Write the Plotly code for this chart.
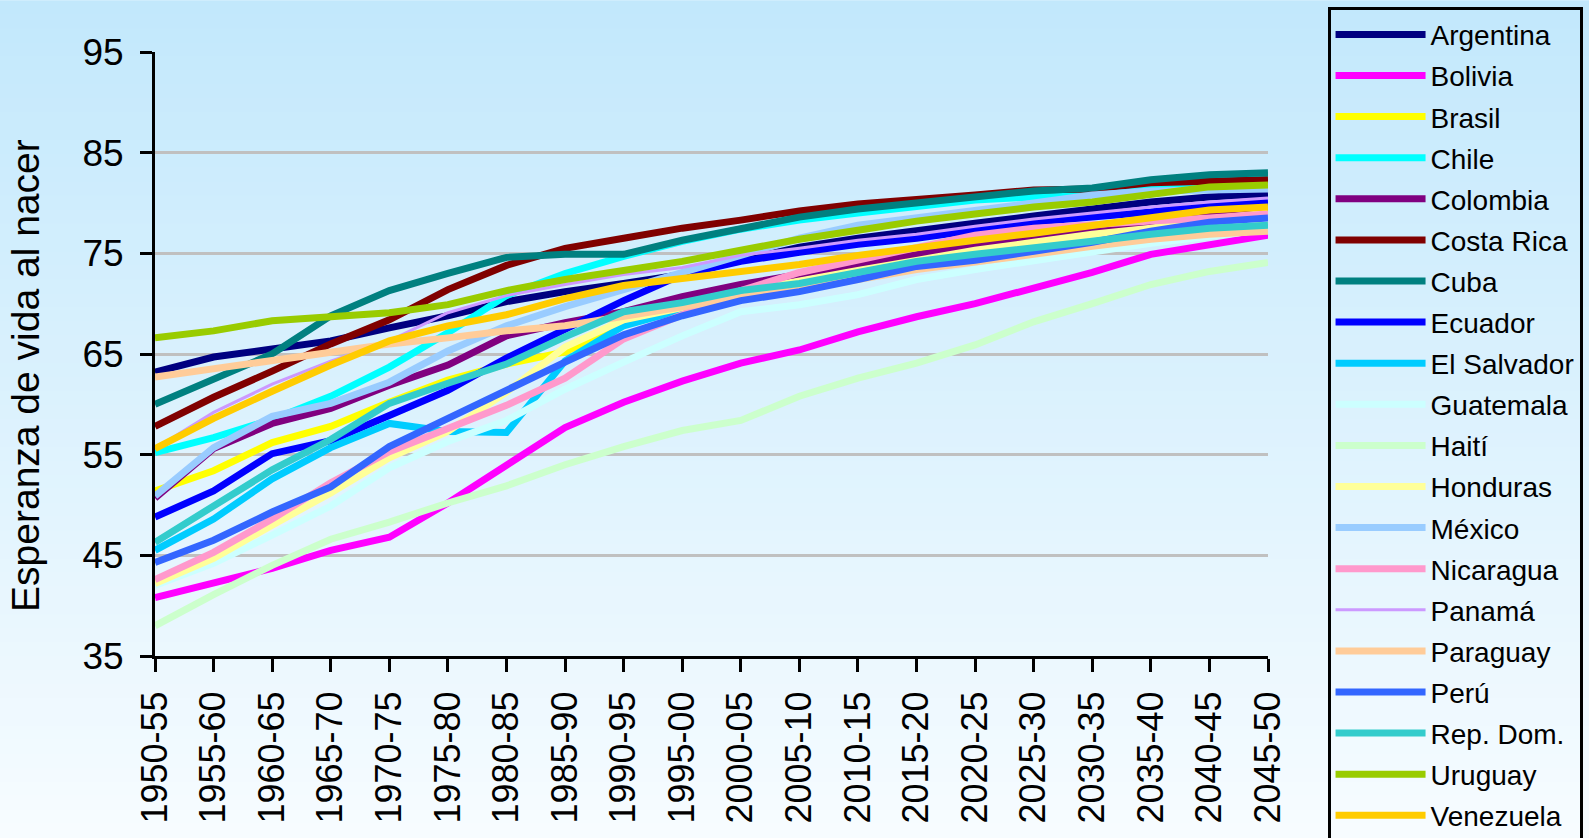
import plotly.graph_objects as go

periods = ["1950-55", "1955-60", "1960-65", "1965-70", "1970-75", "1975-80",
           "1980-85", "1985-90", "1990-95", "1995-00", "2000-05", "2005-10",
           "2010-15", "2015-20", "2020-25", "2025-30", "2030-35", "2035-40",
           "2040-45", "2045-50"]

# esperanza de vida al nacer, por quinquenio
argentina = [63.2, 64.7, 65.5, 66.3, 67.6, 68.8, 70.2, 71.2, 72.0, 72.9, 74.3, 75.6, 76.5, 77.3, 78.0, 78.7, 79.4, 80.1, 80.6, 80.9]
bolivia = [40.8, 42.2, 43.7, 45.5, 46.8, 50.2, 53.9, 57.7, 60.2, 62.3, 64.1, 65.4, 67.2, 68.7, 70.0, 71.5, 73.1, 74.9, 75.9, 76.8]
brasil = [51.4, 53.4, 56.2, 57.8, 60.2, 62.4, 64.0, 65.2, 68.0, 69.6, 70.9, 71.9, 72.9, 73.9, 74.7, 75.4, 76.1, 76.7, 77.3, 77.8]
chile = [55.2, 56.7, 58.5, 60.8, 63.7, 67.1, 70.8, 73.0, 74.7, 76.2, 77.4, 78.3, 79.0, 79.7, 80.3, 80.6, 81.2, 81.7, 82.1, 82.5]
colombia = [50.7, 55.6, 58.1, 59.6, 61.9, 63.9, 66.8, 68.1, 69.2, 70.7, 71.9, 72.9, 73.9, 74.9, 75.7, 76.4, 77.3, 77.9, 78.9, 79.3]
costa_rica = [57.8, 60.7, 63.3, 66.0, 68.4, 71.4, 73.8, 75.5, 76.5, 77.5, 78.3, 79.2, 79.9, 80.3, 80.8, 81.3, 81.4, 82.0, 82.2, 82.3]
cuba = [60.0, 62.5, 65.0, 68.8, 71.3, 73.0, 74.6, 74.9, 74.9, 76.3, 77.5, 78.6, 79.4, 80.0, 80.6, 81.2, 81.5, 82.3, 82.8, 83.0]
ecuador = [48.8, 51.4, 55.1, 56.4, 58.9, 61.4, 64.6, 67.4, 70.3, 72.9, 74.2, 75.1, 75.9, 76.5, 77.3, 78.1, 78.6, 79.1, 79.8, 80.1]
el_salvador = [45.5, 48.6, 52.6, 55.7, 58.1, 57.3, 57.2, 64.3, 67.8, 69.4, 70.8, 71.8, 72.8, 73.7, 74.5, 75.2, 75.9, 76.5, 77.1, 77.6]
guatemala = [42.0, 44.2, 47.0, 49.9, 53.7, 56.3, 58.4, 61.5, 64.2, 66.8, 69.2, 69.9, 70.9, 72.4, 73.4, 74.3, 75.2, 76.0, 76.7, 77.4]
haiti = [38.0, 41.1, 44.0, 46.6, 48.3, 50.2, 51.9, 54.0, 55.8, 57.4, 58.4, 60.8, 62.6, 64.1, 65.9, 68.2, 70.0, 71.9, 73.2, 74.1]
honduras = [42.2, 44.7, 48.0, 51.2, 54.7, 57.3, 61.2, 65.7, 68.4, 69.6, 71.2, 72.3, 73.3, 74.3, 75.3, 76.1, 76.9, 77.5, 78.4, 79.0]
mexico = [50.9, 55.7, 58.8, 60.1, 62.2, 65.3, 67.8, 69.7, 71.4, 73.1, 74.8, 76.5, 77.8, 78.5, 79.3, 80.0, 80.8, 81.2, 81.3, 81.4]
nicaragua = [42.6, 45.3, 48.6, 52.2, 55.3, 57.6, 59.9, 62.6, 66.5, 68.9, 71.3, 73.1, 74.3, 75.6, 76.8, 77.5, 77.9, 78.2, 78.5, 78.9]
panama = [55.6, 59.2, 62.0, 64.3, 66.3, 69.1, 70.8, 71.9, 72.9, 73.6, 74.8, 75.5, 76.3, 76.9, 77.7, 78.4, 79.0, 79.6, 80.1, 80.5]
paraguay = [62.7, 63.5, 64.4, 65.2, 66.0, 66.6, 67.3, 67.8, 68.7, 69.7, 70.6, 71.6, 72.4, 73.4, 74.1, 74.9, 75.7, 76.4, 76.9, 77.2]
peru = [44.3, 46.5, 49.3, 51.8, 55.8, 58.6, 61.5, 64.2, 66.9, 68.8, 70.3, 71.2, 72.4, 73.7, 74.3, 75.2, 76.1, 77.2, 78.1, 78.5]
rep_dom = [46.3, 49.8, 53.5, 56.5, 60.1, 62.1, 64.0, 66.7, 69.2, 70.1, 71.3, 72.0, 73.1, 74.2, 74.9, 75.5, 76.2, 76.9, 77.5, 77.8]
uruguay = [66.6, 67.3, 68.3, 68.7, 69.1, 69.9, 71.3, 72.4, 73.3, 74.2, 75.3, 76.4, 77.3, 78.2, 78.9, 79.6, 80.1, 80.9, 81.6, 81.8]
venezuela = [55.6, 58.6, 61.3, 63.9, 66.3, 67.8, 68.9, 70.5, 71.8, 72.5, 73.1, 73.9, 74.8, 75.6, 76.3, 77.0, 77.8, 78.5, 79.3, 79.6]

series = [
    ("Argentina", argentina, "#000080"),
    ("Bolivia", bolivia, "#FF00FF"),
    ("Brasil", brasil, "#FFFF00"),
    ("Chile", chile, "#00FFFF"),
    ("Colombia", colombia, "#800080"),
    ("Costa Rica", costa_rica, "#800000"),
    ("Cuba", cuba, "#008080"),
    ("Ecuador", ecuador, "#0000FF"),
    ("El Salvador", el_salvador, "#00CCFF"),
    ("Guatemala", guatemala, "#CCFFFF"),
    ("Haití", haiti, "#CCFFCC"),
    ("Honduras", honduras, "#FFFF99"),
    ("México", mexico, "#99CCFF"),
    ("Nicaragua", nicaragua, "#FF99CC"),
    ("Panamá", panama, "#CC99FF"),
    ("Paraguay", paraguay, "#FFCC99"),
    ("Perú", peru, "#3366FF"),
    ("Rep. Dom.", rep_dom, "#33CCCC"),
    ("Uruguay", uruguay, "#99CC00"),
    ("Venezuela", venezuela, "#FFCC00"),
]

font = "Liberation Sans, Arial, sans-serif"

fig = go.Figure()

for name, values, color in series:
    fig.add_trace(
        go.Scatter(
            x=periods,
            y=values,
            mode="lines",
            name=name,
            legendgroup=name,
            line=dict(color=color, width=3 if name == "Panamá" else 7),
        )
    )

# fondo degradado (celeste arriba, casi blanco abajo)
top = (194, 232, 252)
bottom = (247, 252, 255)
n_strips = 60
y_top, y_bot = 1.0855, -0.3005
shapes = []
for i in range(n_strips):
    t = (i + 0.5) / n_strips
    r, g, b = [int(round(a + (c - a) * t)) for a, c in zip(top, bottom)]
    y0 = y_top + (y_bot - y_top) * i / n_strips
    y1 = y_top + (y_bot - y_top) * (i + 1) / n_strips
    shapes.append(dict(
        type="rect", xref="paper", yref="paper",
        x0=-0.2, x1=1.3, y0=y0, y1=y1 - 0.002,
        fillcolor=f"rgb({r},{g},{b})", line=dict(width=0), layer="below",
    ))

fig.update_layout(
    width=1589,
    height=838,
    margin=dict(l=155, r=321, t=52, b=182, autoexpand=False),
    paper_bgcolor="#f7fcff",
    plot_bgcolor="rgba(0,0,0,0)",
    font=dict(family=font, color="black"),
    shapes=shapes,
    showlegend=True,
    legend=dict(
        x=1.0535, y=1.075, xanchor="left", yanchor="top",
        bgcolor="rgba(0,0,0,0)",
        bordercolor="black", borderwidth=3,
        font=dict(size=28, family=font),
        itemwidth=90,
        tracegroupgap=1.7,
        maxheight=2000,
    ),
    xaxis=dict(
        type="category",
        range=[0, 19],
        showgrid=False,
        showline=True, linecolor="black", linewidth=3,
        ticks="outside", ticklen=13, tickwidth=3, tickcolor="black",
        tickangle=-90,
        tickfont=dict(size=36),
        ticklabelstandoff=5,
        zeroline=False,
        automargin=False,
    ),
    yaxis=dict(
        range=[35, 95],
        tickvals=[35, 45, 55, 65, 75, 85, 95],
        showgrid=True, gridcolor="#C0C0C0", gridwidth=3,
        showline=True, linecolor="black", linewidth=3,
        ticks="outside", ticklen=12, tickwidth=3, tickcolor="black",
        tickfont=dict(size=37),
        ticklabelstandoff=9,
        zeroline=False,
        automargin=False,
    ),
    annotations=[dict(
        text="Esperanza de vida al nacer",
        xref="paper", yref="paper",
        x=-0.117, y=0.465, xanchor="center", yanchor="middle",
        textangle=-90, showarrow=False,
        font=dict(size=39, family=font),
    )],
)

# la página no debe añadir margen alrededor del gráfico
fig.write_html(
    "out.html",
    config={"displayModeBar": False},
    post_script="document.body.style.margin='0';document.body.style.background='#f7fcff';",
)
